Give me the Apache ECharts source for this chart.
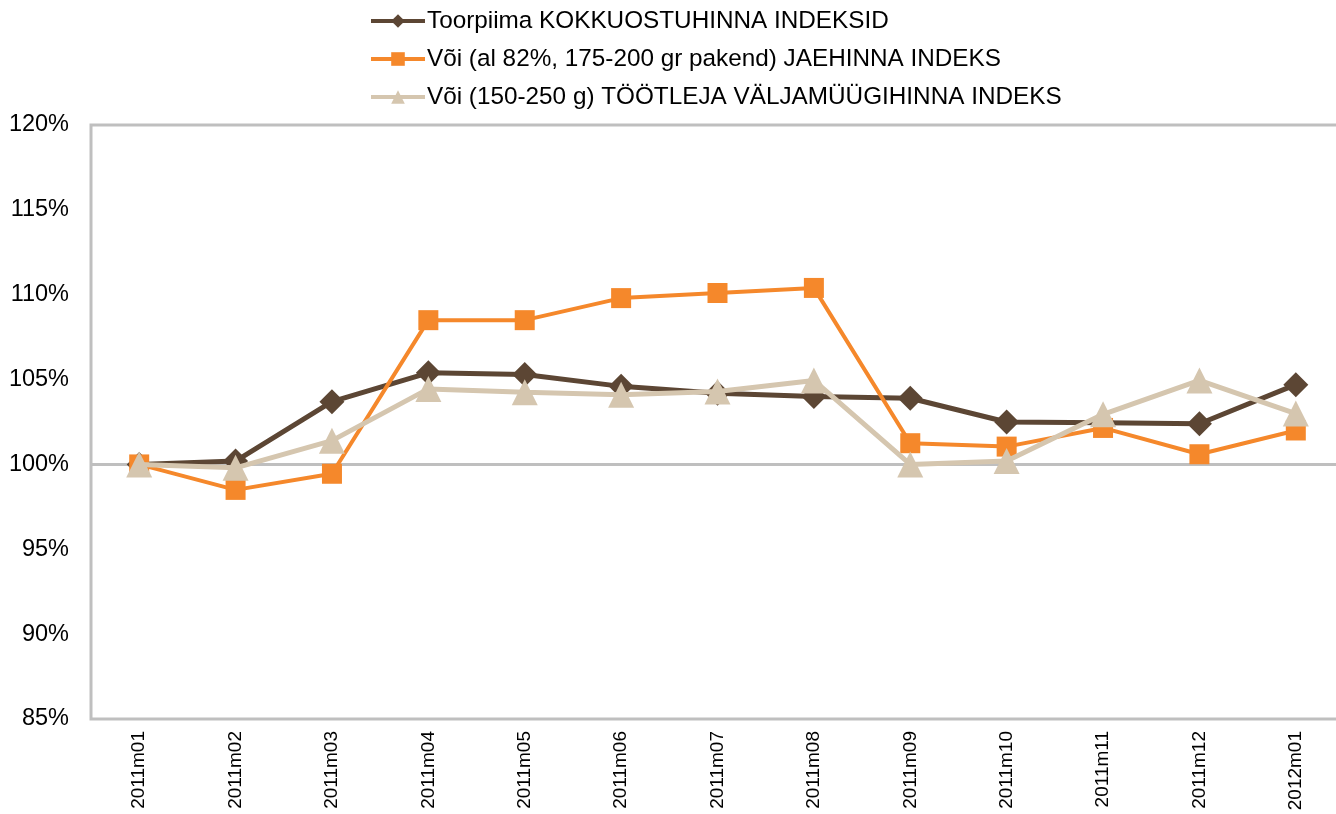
<!DOCTYPE html>
<html>
<head>
<meta charset="utf-8">
<script src="https://cdn.jsdelivr.net/npm/echarts@6/dist/echarts.min.js"></script>
<style>html,body{margin:0;padding:0;background:#fff}#c{width:1336px;height:814px}</style>
</head>
<body>
<div id="c"></div>
<script>
const categories = ['2011m01','2011m02','2011m03','2011m04','2011m05','2011m06','2011m07','2011m08','2011m09','2011m10','2011m11','2011m12','2012m01'];
const seriesNames = ['Toorpiima KOKKUOSTUHINNA INDEKSID','Või (al 82%, 175-200 gr pakend) JAEHINNA INDEKS','Või (150-250 g) TÖÖTLEJA VÄLJAMÜÜGIHINNA INDEKS'];
const toorpiima = [100.0, 100.2, 103.7, 105.4, 105.3, 104.6, 104.2, 104.0, 103.9, 102.5, 102.45, 102.4, 104.7];
const voiJae = [100.0, 98.5, 99.45, 108.5, 108.5, 109.8, 110.1, 110.4, 101.25, 101.05, 102.15, 100.6, 102.0];
const voiTootleja = [100.0, 99.8, 101.4, 104.45, 104.25, 104.1, 104.3, 104.95, 100.0, 100.2, 102.95, 104.95, 103.0];
const yTicks = {min: 85, max: 120, interval: 5};

const chart = echarts.init(document.getElementById('c'));
const font = 'Liberation Sans, Arial, sans-serif';
chart.setOption({
  animation: false,
  textStyle: {fontFamily: font},
  legend: {
    orient: 'vertical', left: 364, top: 4, itemGap: 14,
    itemWidth: 54, itemHeight: 17,
    lineStyle: {width: 4},
    textStyle: {fontSize: 24.3, color: '#000', fontFamily: font, padding: [0,0,0,-3]},
    data: seriesNames
  },
  grid: {left: 91, top: 125, width: 1253, height: 594, outerBoundsMode: 'none', show: true, borderColor: '#BFBFBF', borderWidth: 3, containLabel: false},
  xAxis: {
    type: 'category', data: categories, boundaryGap: true,
    axisLine: {show: false}, axisTick: {show: false}, splitLine: {show: false},
    axisLabel: {rotate: 90, fontSize: 19, color: '#000', margin: 12, fontFamily: font}
  },
  yAxis: {
    type: 'value', min: yTicks.min, max: yTicks.max, interval: yTicks.interval,
    axisLine: {show: false}, axisTick: {show: false}, splitLine: {show: false},
    axisLabel: {formatter: '{value}%', fontSize: 23.5, color: '#000', margin: 22, fontFamily: font}
  },
  series: [
    {
      name: seriesNames[0], type: 'line', data: toorpiima, z: 3,
      symbol: 'diamond', symbolSize: 25,
      lineStyle: {color: '#5C4634', width: 5}, itemStyle: {color: '#5C4634'},
      markLine: {silent: true, symbol: 'none', label: {show: false},
        lineStyle: {color: '#BFBFBF', width: 3, type: 'solid'}, data: [{yAxis: 100}], z: 1}
    },
    {
      name: seriesNames[1], type: 'line', data: voiJae, z: 4,
      symbol: 'rect', symbolSize: 20,
      lineStyle: {color: '#F5882B', width: 4}, itemStyle: {color: '#F5882B'}
    },
    {
      name: seriesNames[2], type: 'line', data: voiTootleja, z: 5,
      symbol: 'triangle', symbolSize: 26,
      lineStyle: {color: '#D5C6AF', width: 5}, itemStyle: {color: '#D5C6AF'}
    }
  ]
});
</script>
</body>
</html>
